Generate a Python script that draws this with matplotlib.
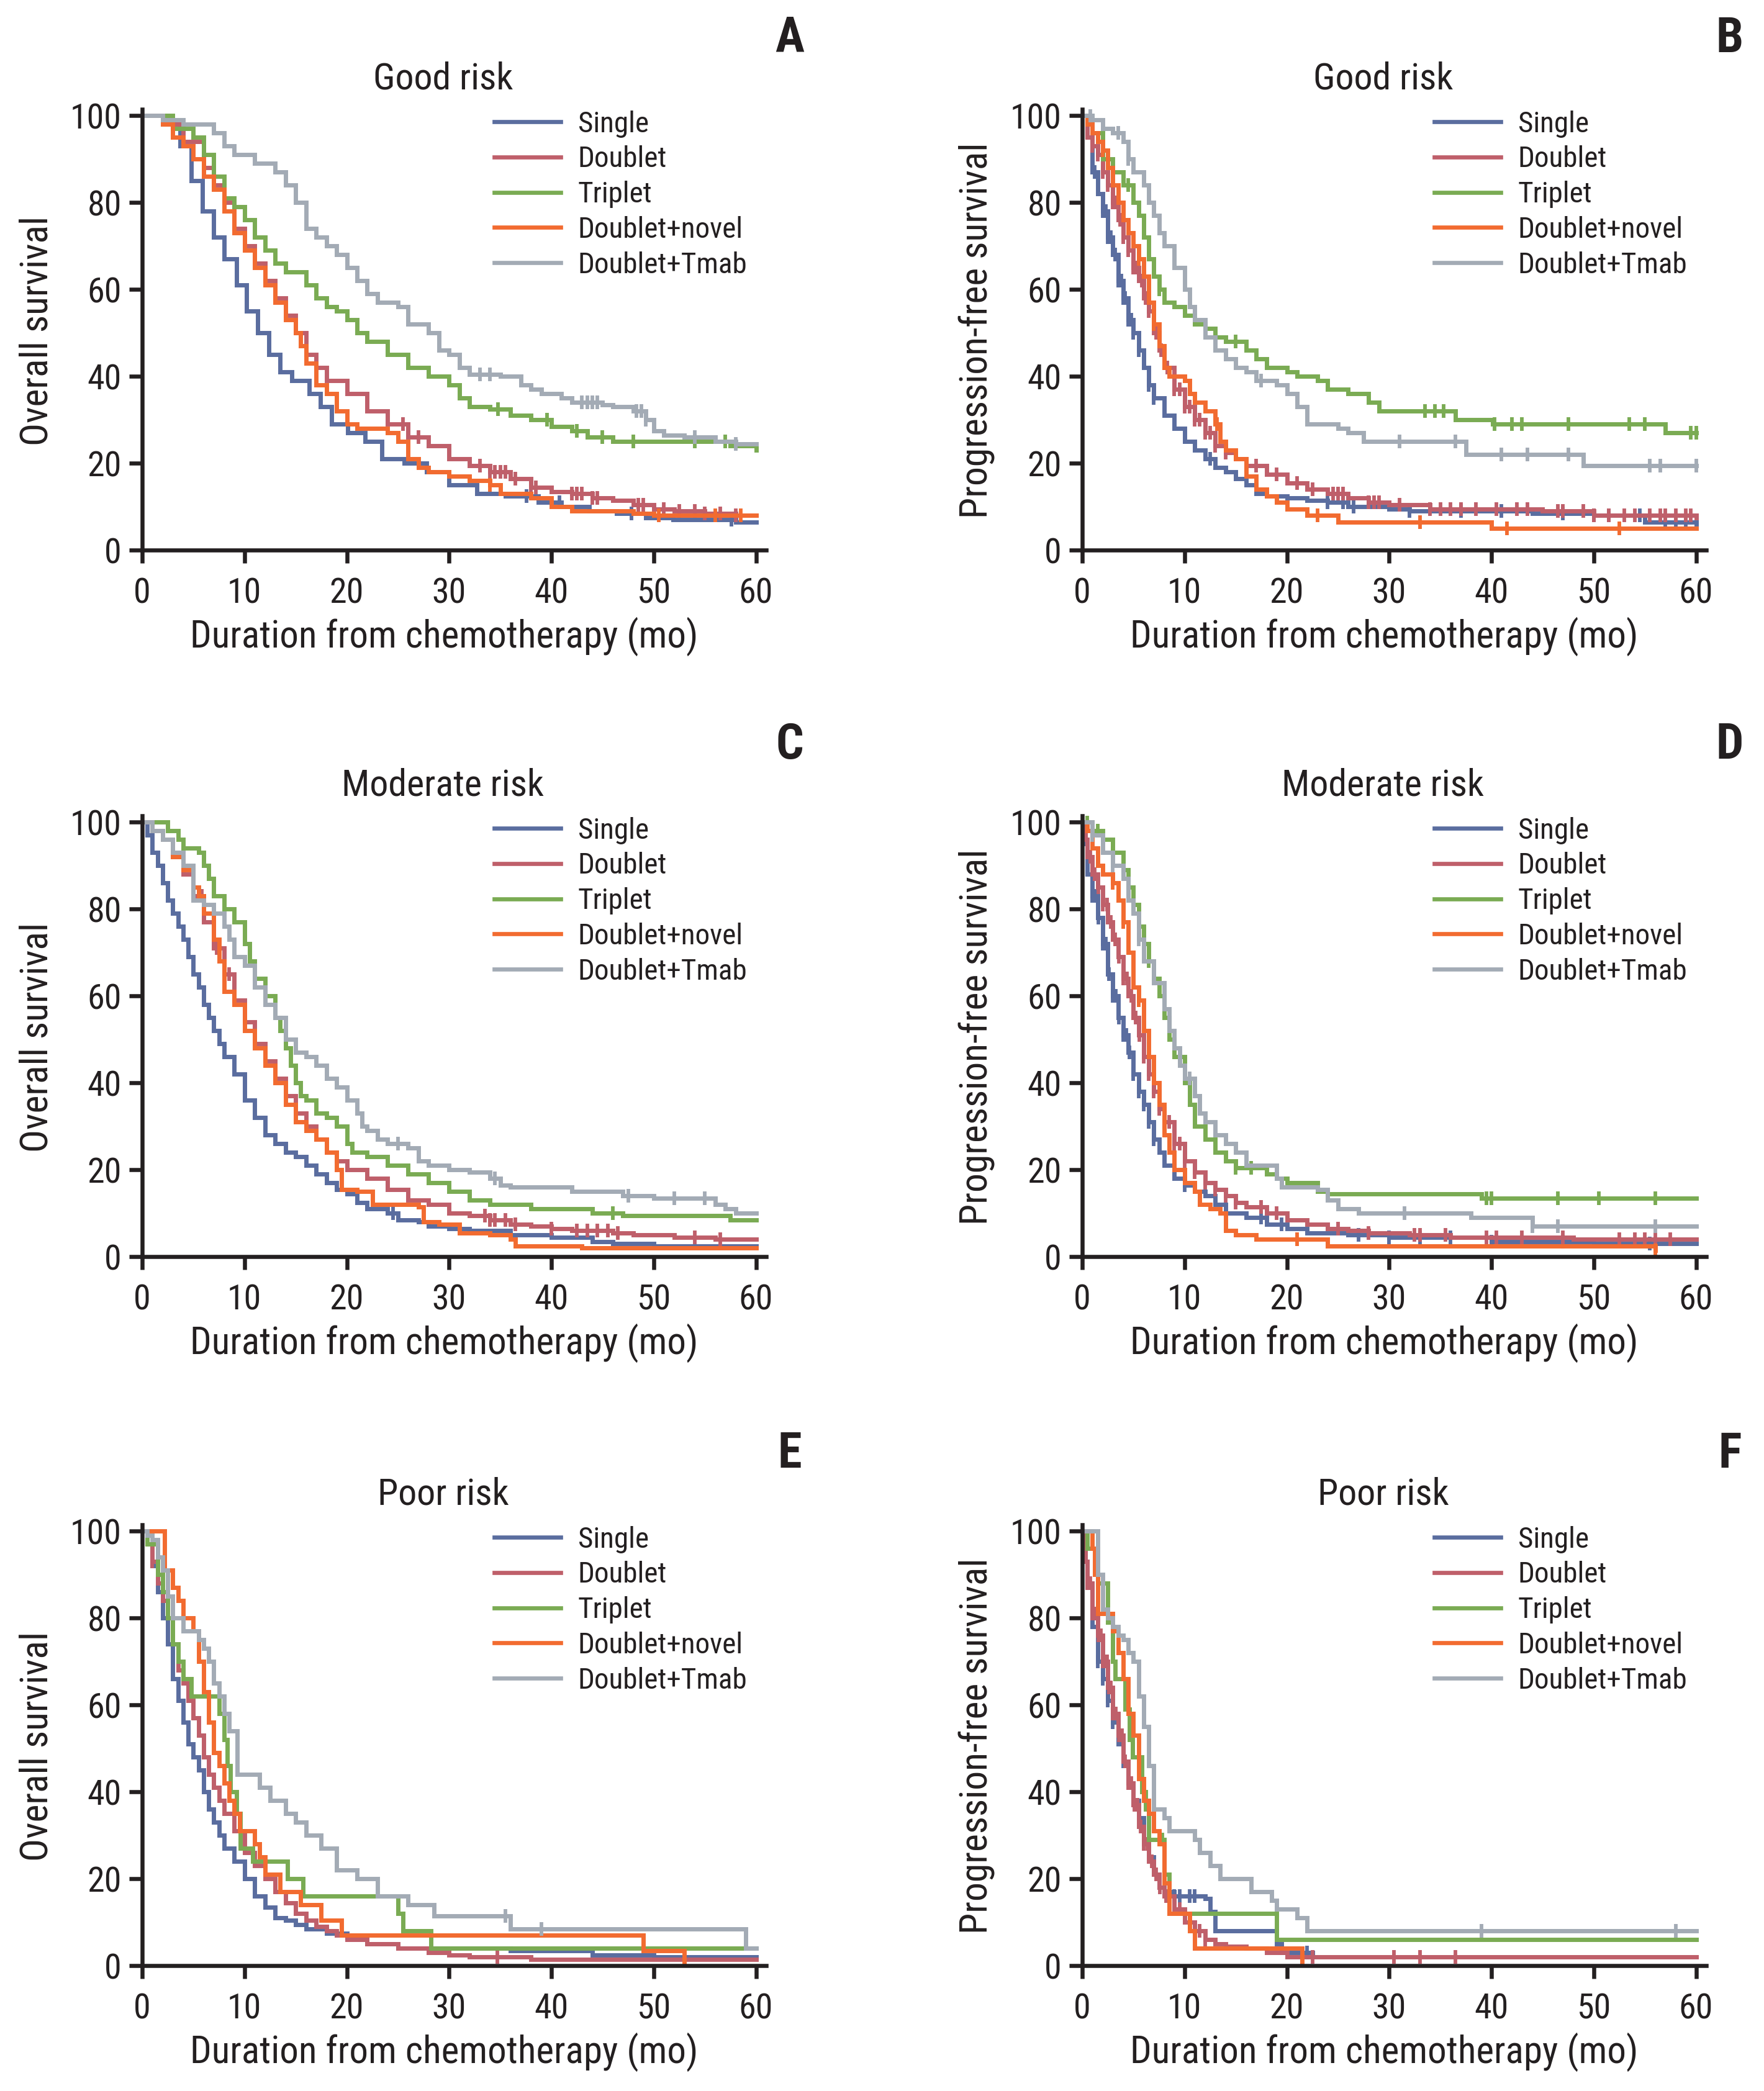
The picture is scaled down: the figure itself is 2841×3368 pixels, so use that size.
import numpy as np
import matplotlib
matplotlib.use("Agg")
import matplotlib.pyplot as plt
from matplotlib import font_manager
from matplotlib.lines import Line2D

avail = {f.name for f in font_manager.fontManager.ttflist}
prefs = ['Roboto Condensed', 'Fira Sans Condensed', 'Archivo Narrow', 'PT Sans Narrow',
         'IBM Plex Sans Condensed', 'Liberation Sans Narrow', 'Asap Condensed',
         'Encode Sans Condensed', 'Barlow Semi Condensed', 'Open Sans Condensed', 'Liberation Sans']
FONT = next(p for p in prefs if p in avail)
plt.rcParams['font.family'] = [FONT, 'DejaVu Sans']

groups = ["Single", "Doublet", "Triplet", "Doublet+novel", "Doublet+Tmab"]
colors = ["#5a6d9f", "#bf5f6a", "#7aab53", "#f26b30", "#a3abb5"]
x_ticks = [0, 10, 20, 30, 40, 50, 60]
y_ticks = [0, 20, 40, 60, 80, 100]
titles = ["Good risk", "Good risk", "Moderate risk", "Moderate risk", "Poor risk", "Poor risk"]
letters = ["A", "B", "C", "D", "E", "F"]
ylabels = ["Overall survival", "Progression-free survival"] * 3
xlabel = "Duration from chemotherapy (mo)"

# ---------------- Panel A : OS, good risk ----------------
a_single_t = [0, 2.5, 3.7, 4.8, 5.9, 7, 8, 9.2, 10.2, 11.3, 12.4, 13.5, 14.6, 16.3, 17.4, 18.5, 20.1, 21.8, 23.4, 25.6, 27.8, 30, 32.7, 35.5, 38.7, 41, 43.7, 46.4, 49.2, 51.9, 58, 60]
a_single_s = [100, 98, 93, 85, 78, 72, 67, 61, 55, 50, 45, 41, 39, 36, 33, 29, 27, 25, 21, 20, 18, 15, 13, 12.5, 11, 10, 9, 8.5, 7.5, 7, 6.5, 6.5]
a_single_c = [37.6, 40.8, 47.8, 57.6]
a_doublet_t = [0, 2, 4, 6, 7, 8, 9, 10, 11, 12, 13, 14, 15, 16, 17, 18, 20, 22, 24, 26, 28, 30, 32, 34, 36, 38, 40, 42, 44, 46, 48, 50, 52, 55, 58, 60]
a_doublet_s = [100, 98, 94, 88, 84, 80, 74, 70, 66, 62, 58, 54, 50, 45, 42, 39, 36, 32, 29, 26, 24, 21, 19.5, 18, 16.5, 14.5, 13.5, 13, 12, 11.5, 10.5, 9.5, 9, 8.5, 8, 8]
a_doublet_c = [25.5, 27, 33, 34, 34.5, 35, 35.5, 36.5, 38, 38.5, 42, 42.5, 43, 44, 44.5, 48.5, 49, 51, 52.5, 54, 55, 56.5, 58]
a_triplet_t = [0, 3, 5, 6, 7, 8, 9, 10, 11, 12, 13, 14, 16, 17, 18, 19, 20, 21, 22, 24, 26, 28, 30, 31, 32, 34, 36, 38, 40, 42, 43.5, 46, 57.5, 60]
a_triplet_s = [100, 97, 95, 91, 86, 81, 79, 76, 72, 69, 66, 64, 61, 58, 56, 55, 53, 50, 48, 45, 42, 40, 38, 35, 33, 32.5, 31, 30, 28.5, 27.5, 26, 25, 24, 23]
a_triplet_c = [34.8, 39.6, 42.5, 45, 48, 54, 57]
a_novel_t = [0, 2, 3, 4, 5, 6, 7, 8, 9, 10, 11, 12, 13, 14, 15, 15.5, 16, 17, 18, 19, 20, 21, 24, 25, 26, 27, 28, 30, 32, 34, 35, 38, 40, 42, 48, 50, 60]
a_novel_s = [100, 98, 95, 93, 90, 86, 83, 78, 73, 69, 65, 61, 57, 53, 50, 47, 43, 38, 36, 32, 29, 28, 27, 25, 21, 19, 18, 17, 16, 15, 13, 12, 10, 9, 8.5, 8, 8]
a_novel_c = [34, 50.5, 56, 58.5]
a_tmab_t = [0, 2, 4, 7, 8, 9, 11, 13, 14, 15, 16, 17, 18, 19, 20, 21, 22, 23, 25, 26, 28, 29, 30, 31, 32, 35, 37, 38, 39, 41, 42, 45, 46, 48, 49.2, 50, 51, 53, 56, 58, 60]
a_tmab_s = [100, 99, 98, 96, 93, 91, 89, 87, 84, 80, 74, 72, 70, 68, 65, 62, 59, 57, 56, 52, 50, 46, 45, 42, 40.5, 40, 38, 37, 36, 35, 34, 33.5, 33, 32, 30, 27.5, 26.5, 26, 25, 24.5, 24.5]
a_tmab_c = [33, 34, 43, 43.5, 44, 44.5, 48.3, 48.8, 49.2, 54, 58]

# ---------------- Panel B : PFS, good risk ----------------
b_single_t = [0, 0.5, 1, 1.5, 2, 2.5, 3, 3.5, 4, 4.5, 5, 5.5, 6, 6.5, 7, 8, 9, 10, 11, 12, 13, 14, 15, 16, 17, 18, 20, 22, 24, 26, 30, 32, 44, 50, 55, 60]
b_single_s = [100, 95, 87, 82, 78, 72, 68, 62, 58, 53, 50, 46, 42, 38, 35, 31, 28, 25, 23, 21, 19, 18, 16.5, 15, 13, 12.5, 12, 11.5, 11, 10, 9.5, 9, 8.5, 8, 6.5, 6]
b_single_c = [1.2, 2, 2.3, 2.5, 2.8, 3.2, 3.5, 3.8, 4, 4.2, 4.5, 4.8, 5, 5.5, 6.5, 7, 12.5, 24, 25.5, 26.5, 32, 37, 41, 47, 50, 51.5, 54.5, 57, 58, 59]
b_doublet_t = [0, 0.5, 1, 1.5, 2, 2.5, 3, 3.5, 4, 4.5, 5, 5.5, 6, 6.5, 7, 7.5, 8, 9, 10, 11, 12, 13, 14, 15, 16, 18, 20, 22, 24, 26, 28, 30, 34, 45, 50, 60]
b_doublet_s = [100, 95, 93, 91, 87, 84, 80, 76, 72, 69, 65, 62, 58, 55, 50, 46, 42, 37, 33, 30, 27, 24, 22.5, 21, 19.5, 17.5, 15.5, 14, 13, 12, 11, 10.5, 9.5, 9, 8, 7.5]
b_doublet_c = [1, 1.5, 2, 2.5, 3, 3.3, 3.7, 4, 4.5, 5, 5.3, 5.8, 6.2, 6.5, 7.2, 7.7, 8.3, 9, 9.5, 10, 10.5, 11, 11.5, 12, 12.5, 13, 14, 16, 17, 19, 21, 22.5, 24.5, 25, 25.5, 28, 28.5, 29, 31, 34, 35, 36, 37, 38.5, 40.5, 42.5, 43.5, 46.5, 47, 49, 50, 51.5, 53, 54, 55.5, 56.5, 57, 58, 59, 59.5]
b_triplet_t = [0, 1, 2, 3, 4, 5, 5.5, 6, 6.5, 7, 7.5, 8, 9, 10, 11, 12, 13, 14, 16, 17, 18, 20, 21, 23, 24, 26, 28, 29, 36.5, 40.1, 57, 60]
b_triplet_s = [100, 96, 90, 87, 84, 80, 77, 72, 67, 63, 60, 57, 56, 54, 52, 51, 49, 48, 46, 44, 42, 41, 40, 39, 37, 36, 34, 32, 30, 29, 27, 27]
b_triplet_c = [3, 4.5, 7.5, 15, 33.5, 34.5, 35.3, 40.3, 42, 43, 47.5, 53.5, 55, 59.5, 60]
b_novel_t = [0, 0.5, 1, 1.5, 2, 2.5, 3, 3.5, 4, 4.5, 5, 5.5, 6, 6.5, 7, 7.5, 8, 8.5, 10, 10.5, 11, 12, 13, 13.5, 14, 15, 16, 17, 18, 19, 20, 22, 25, 40, 60]
b_novel_s = [100, 98, 96, 94, 92, 88, 84, 80, 76, 73, 70, 67, 63, 57, 52, 47, 42, 40, 39, 36, 34, 32, 29, 25, 23, 21, 17, 14, 12.5, 11, 9.5, 8, 6.5, 5, 5]
b_novel_c = [2, 5.5, 7, 13.2, 23, 33, 41.5, 52.5]
b_tmab_t = [0, 1, 2, 3, 4, 4.5, 5, 6, 6.5, 7, 7.5, 8, 9, 10, 10.5, 11, 12, 13, 14, 15, 16, 17, 19, 20, 21, 22, 25, 26, 27.5, 37.5, 49, 60]
b_tmab_s = [100, 99, 97, 96, 94, 90, 87, 84, 80, 77, 73, 70, 65, 60, 56, 53, 49, 46, 44, 42, 41, 39, 38, 36, 33, 29, 28, 27, 25, 22, 19.5, 19.5]
b_tmab_c = [0.8, 3.5, 4.5, 17.5, 31, 36.5, 41, 43.5, 47.5, 55.5, 56.5, 60]

# ---------------- Panel C : OS, moderate risk ----------------
c_single_t = [0, 0.5, 1, 1.5, 2, 2.5, 3, 3.5, 4, 4.5, 5, 5.5, 6, 6.5, 7, 7.5, 8, 9, 10, 11, 12, 13, 14, 15, 16, 17, 18, 19, 20, 21, 22, 24, 25, 27, 28, 30, 32, 36, 40, 44, 46, 50, 60]
c_single_s = [100, 97, 93, 90, 86, 82, 79, 76, 73, 69, 65, 62, 58, 55, 52, 49, 46, 42, 36, 32, 28, 26, 24, 23, 21, 19, 17, 15.5, 14.5, 12.5, 11, 10, 8.5, 8, 7, 6.5, 6, 5, 4.5, 3.5, 3, 2.5, 2.5]
c_single_c = [24.5]
c_doublet_t = [0, 1, 2, 3, 4, 5, 6, 7, 8, 9, 10, 11, 12, 13, 14, 15, 16, 17, 18, 19, 20, 22, 24, 26, 28, 30, 32, 34, 36, 38, 40, 42, 46, 48, 52, 56, 60]
c_doublet_s = [100, 98, 96, 92, 88, 83, 77, 71, 65, 59, 54, 49, 45, 41, 37, 33, 30, 27, 24, 22, 20, 18, 15.5, 13, 12, 10, 9.5, 8.5, 7.5, 7, 6.5, 6, 5.5, 5, 4.5, 4, 4]
c_doublet_c = [5.8, 7.3, 8.5, 33.5, 34, 34.5, 35.5, 36.5, 40, 42.5, 43.5, 44.5, 45.5, 46.5, 54, 56.5]
c_triplet_t = [0, 2.5, 3.5, 4, 5.5, 6, 6.5, 7, 8, 9, 10, 10.5, 11, 12, 13, 13.5, 14, 14.5, 15, 15.5, 16, 17, 18, 19, 20, 20.5, 22, 24, 26, 28, 30, 32, 34, 38, 44, 47, 57.5, 60]
c_triplet_s = [100, 98, 96, 94, 93, 90, 87, 83, 80, 77, 72, 68, 64, 60, 55, 52, 48, 44, 40, 37, 36, 33, 32, 30, 26, 24, 23, 21, 19, 17, 15, 13, 12, 11, 10, 9.5, 8.5, 8.5]
c_triplet_c = [46]
c_novel_t = [0, 1, 2, 3, 4, 5, 5.5, 6, 7, 7.5, 8, 9, 10, 11, 12, 13, 14, 15, 16, 17, 18, 19, 19.5, 21, 22.5, 27, 27.5, 29, 31, 34, 36, 36.5, 43, 60]
c_novel_s = [100, 98, 96, 92, 89, 85, 83, 79, 73, 68, 61, 58, 52, 48, 44, 40, 35, 31, 29, 27, 24, 20, 15.5, 15, 12, 11.5, 8, 7.5, 5.5, 5, 4, 2.5, 2, 2]
c_novel_c = []
c_tmab_t = [0, 1, 2, 3, 4, 5, 6, 7, 8, 8.5, 9, 10, 11, 12, 13, 14, 15, 16, 17, 18, 19, 20, 21, 21.5, 22, 23, 24, 26, 27, 28, 30, 32, 34, 35, 36, 42, 47, 50, 56, 57, 58, 60]
c_tmab_s = [100, 98, 96, 93, 90, 82, 81, 79, 76, 73, 69, 67, 62, 58, 55, 50, 47, 46, 44, 41, 39, 36, 33, 30, 29, 27, 26, 25, 22, 21, 20, 19.5, 18, 16.5, 16, 15, 14, 13.5, 12, 11, 10, 10]
c_tmab_c = [25, 34.5, 47.5, 52, 55]

# ---------------- Panel D : PFS, moderate risk ----------------
d_single_t = [0, 0.3, 0.5, 1, 1.5, 2, 2.5, 3, 3.5, 4, 4.5, 5, 5.5, 6, 6.5, 7, 7.5, 8, 9, 10, 11, 12, 13, 14, 16, 18, 20, 22, 26, 30, 40, 50, 60]
d_single_s = [100, 95, 88, 83, 78, 72, 65, 60, 55, 51, 47, 42, 38, 35, 31, 27, 24, 21, 18, 16.5, 15, 14, 12, 10, 9, 7.5, 6.5, 5.5, 5, 4.5, 3.5, 3, 3]
d_single_c = [1, 1.3, 1.6, 2, 2.3, 2.6, 3, 3.3, 3.6, 4, 4.3, 4.6, 5, 5.5, 6, 6.5, 7, 10, 17.5, 19.5, 27, 30, 33, 36, 40, 47, 55.5]
d_doublet_t = [0, 0.3, 0.5, 1, 1.5, 2, 2.5, 3, 3.5, 4, 4.5, 5, 5.5, 6, 6.5, 7, 7.5, 8, 9, 10, 11, 12, 13, 14, 15, 16, 18, 20, 22, 24, 26, 28, 32, 36, 48, 60]
d_doublet_s = [100, 96, 92, 88, 85, 81, 77, 73, 69, 64, 60, 55, 51, 46, 42, 38, 34, 31, 26, 22, 19.5, 17, 15.5, 14, 12.5, 11.5, 10, 8.5, 7.5, 6.5, 6, 5.5, 5, 4.5, 4, 4]
d_doublet_c = [0.8, 1.2, 1.6, 2, 2.4, 2.8, 3.2, 3.6, 4, 4.4, 4.8, 5.2, 5.6, 6, 6.5, 7, 7.5, 8, 8.5, 9, 9.5, 10, 11, 12, 13, 14, 15, 17.5, 19, 25, 28, 32.5, 33, 35.5, 39.5, 40.5, 43, 47, 52.5, 54, 55, 56, 57.5]
d_triplet_t = [0, 1, 2, 3, 4, 4.5, 5, 5.5, 6, 6.5, 7, 7.5, 8, 8.5, 9, 10, 10.5, 11, 12, 13, 14, 15, 18, 19, 20, 23, 24, 39, 60]
d_triplet_s = [100, 98, 96, 93, 89, 85, 81, 76, 72, 68, 64, 60, 55, 50, 46, 40, 35, 30, 27, 24, 22, 20.5, 19, 18, 17, 15, 14.5, 13.5, 13.5]
d_triplet_c = [0.5, 1.5, 3, 4, 5, 6.5, 9.5, 15, 16.5, 39.5, 40, 46.5, 50.5, 56]
d_novel_t = [0, 0.5, 1, 1.5, 2, 3, 3.5, 4, 4.5, 5, 5.5, 6, 6.5, 7, 7.5, 8, 8.5, 9, 10, 11, 11.5, 12.5, 13.5, 14, 15, 17, 24, 56]
d_novel_s = [100, 98, 94, 90, 88, 86, 82, 77, 70, 62, 59, 52, 46, 40, 35, 28, 24, 20, 17, 15, 12, 11, 10, 6, 5, 4, 2.5, 1.5]
d_novel_c = [3, 4, 5.5, 21, 56]
d_tmab_t = [0, 1, 2, 3, 4, 4.5, 5, 5.5, 6, 7, 8, 8.5, 9, 9.5, 10, 11, 11.5, 12, 13, 14, 15, 16, 19, 19.5, 23, 24, 25, 27, 38, 44, 60]
d_tmab_s = [100, 97, 93, 90, 87, 82, 79, 73, 68, 63, 57, 52, 48, 44, 41, 37, 33, 31, 28, 26, 24, 21, 18, 16, 15.5, 13, 11, 10, 9, 7, 7]
d_tmab_c = [1, 3, 5.5, 10.5, 31.5, 44, 46.5, 56]

# ---------------- Panel E : OS, poor risk ----------------
e_single_t = [0, 0.5, 1, 1.5, 2, 2.5, 3, 3.5, 4, 4.5, 5, 5.5, 6, 6.5, 7, 7.5, 8, 9, 10, 11, 12, 13, 14, 15, 16, 18, 20, 22, 25, 36, 44, 50, 60]
e_single_s = [100, 97, 92, 86, 80, 74, 66, 61, 56, 51, 48, 45, 40, 36, 33, 30, 27, 24, 20, 16, 13.5, 11, 10.5, 9.5, 8.5, 7.5, 6.5, 5, 4, 3.5, 2.5, 2, 2]
e_single_c = []
e_doublet_t = [0, 0.5, 1, 1.5, 2, 2.5, 3, 3.5, 4, 4.5, 5, 5.5, 6, 6.5, 7, 7.5, 8, 9, 10, 11, 12, 13, 14, 15, 16, 17, 18, 19, 20, 22, 25, 28, 30, 32, 38, 60]
e_doublet_s = [100, 97, 93, 88, 84, 80, 74, 68, 65, 61, 57, 53, 48, 44, 41, 38, 35, 31, 26, 23, 20, 17, 14.5, 12, 10.5, 9, 8, 7, 6, 5, 4, 3, 2.5, 2, 1.5, 1.5]
e_doublet_c = [1, 34.7]
e_triplet_t = [0, 0.5, 1.5, 2, 2.5, 3, 3.5, 4, 4.8, 7.5, 8, 8.3, 8.6, 9.2, 9.6, 10.8, 14.2, 15.7, 25, 25.5, 28.2, 60]
e_triplet_s = [100, 97, 90, 86, 80, 74, 70, 66, 62, 58, 52, 46, 40, 35, 27, 24, 20, 16, 12, 8, 4, 4]
e_triplet_c = []
e_novel_t = [0, 2.2, 3, 3.5, 4, 5, 5.5, 6, 6.5, 7, 7.5, 8, 8.5, 9, 9.5, 11, 11.5, 12, 13.5, 15.5, 17.5, 19.5, 49, 53]
e_novel_s = [100, 91, 87, 84, 80, 77, 70, 63, 56, 49, 46, 42, 38, 35, 31, 28, 25, 21, 17, 14, 10.5, 7, 3.5, 0]
e_novel_c = []
e_tmab_t = [0, 0.5, 1, 1.5, 2, 2.5, 3, 4, 5.5, 6, 6.5, 7, 7.5, 8, 8.5, 9.3, 11.5, 12.5, 14, 15, 16, 17.5, 19, 21, 23, 26, 28.5, 36, 59, 60]
e_tmab_s = [100, 99, 98, 94, 91, 85, 80, 77, 75, 73, 70, 65, 62, 58, 54, 44, 41, 38, 35, 33, 30, 27, 22, 20, 16, 14, 11.5, 8.5, 4, 4]
e_tmab_c = [35.5, 39]

# ---------------- Panel F : PFS, poor risk ----------------
f_single_t = [0, 0.3, 0.5, 1, 1.5, 2, 2.5, 3, 3.5, 4, 4.5, 5, 5.5, 6, 6.5, 7, 7.5, 8, 9, 12, 12.5, 13, 19, 19.5, 22.5]
f_single_s = [100, 93, 87, 78, 70, 66, 61, 56, 51, 47, 42, 38, 34, 29, 25, 21, 18, 17, 16, 15.5, 12.5, 8, 5, 3, 2]
f_single_c = [1.5, 2, 2.5, 3, 4, 5, 9, 9.5, 10.5, 11, 22]
f_doublet_t = [0, 0.3, 0.5, 1, 1.5, 2, 2.5, 3, 3.5, 4, 4.5, 5, 5.5, 6, 6.5, 7, 7.5, 8, 9, 10, 11, 12, 13, 14, 16, 18, 20, 60]
f_doublet_s = [100, 93, 88, 81, 76, 70, 64, 58, 53, 47, 42, 37, 32, 28, 24, 21, 18, 16, 13, 10, 8, 6, 5, 4.5, 4, 3, 2, 2]
f_doublet_c = [0.5, 0.8, 1, 1.2, 1.4, 1.6, 1.8, 2, 2.2, 2.4, 2.6, 2.8, 3, 3.3, 3.6, 3.9, 4.2, 4.5, 4.8, 5.1, 5.4, 5.7, 6, 6.4, 6.8, 7.2, 7.6, 8.2, 9.5, 10.5, 11.5, 12, 22.5, 30.5, 33, 36.5]
f_triplet_t = [0, 0.5, 1.5, 2.5, 3, 3.2, 4.2, 4.6, 4.9, 5.8, 6.2, 6.5, 8, 8.5, 19, 60]
f_triplet_s = [100, 96, 88, 79, 70, 66, 59, 52, 48, 40, 36, 29, 21, 12, 6, 6]
f_triplet_c = [7.8]
f_novel_t = [0, 1, 1.2, 1.5, 3, 3.5, 4, 4.5, 5, 5.5, 6, 6.5, 7, 7.5, 8, 8.5, 10.5, 11, 21.5]
f_novel_s = [100, 96, 90, 81, 77, 72, 66, 58, 53, 43, 38, 35, 31, 28, 19, 12, 8, 4, 0]
f_novel_c = []
f_tmab_t = [0, 1.5, 2, 2.5, 3, 3.5, 4, 4.5, 5, 5.5, 6, 6.5, 7, 8, 8.5, 11, 11.5, 12.5, 13.5, 16.5, 18.5, 19, 21, 22, 60]
f_tmab_s = [100, 90, 82, 80, 78, 76, 75, 72, 70, 62, 55, 46, 36, 34, 31, 29, 26, 23, 20, 17, 15, 13, 11, 8, 8]
f_tmab_c = [39, 58]

panels = [
    [(a_single_t, a_single_s, a_single_c), (a_doublet_t, a_doublet_s, a_doublet_c), (a_triplet_t, a_triplet_s, a_triplet_c), (a_novel_t, a_novel_s, a_novel_c), (a_tmab_t, a_tmab_s, a_tmab_c)],
    [(b_single_t, b_single_s, b_single_c), (b_doublet_t, b_doublet_s, b_doublet_c), (b_triplet_t, b_triplet_s, b_triplet_c), (b_novel_t, b_novel_s, b_novel_c), (b_tmab_t, b_tmab_s, b_tmab_c)],
    [(c_single_t, c_single_s, c_single_c), (c_doublet_t, c_doublet_s, c_doublet_c), (c_triplet_t, c_triplet_s, c_triplet_c), (c_novel_t, c_novel_s, c_novel_c), (c_tmab_t, c_tmab_s, c_tmab_c)],
    [(d_single_t, d_single_s, d_single_c), (d_doublet_t, d_doublet_s, d_doublet_c), (d_triplet_t, d_triplet_s, d_triplet_c), (d_novel_t, d_novel_s, d_novel_c), (d_tmab_t, d_tmab_s, d_tmab_c)],
    [(e_single_t, e_single_s, e_single_c), (e_doublet_t, e_doublet_s, e_doublet_c), (e_triplet_t, e_triplet_s, e_triplet_c), (e_novel_t, e_novel_s, e_novel_c), (e_tmab_t, e_tmab_s, e_tmab_c)],
    [(f_single_t, f_single_s, f_single_c), (f_doublet_t, f_doublet_s, f_doublet_c), (f_triplet_t, f_triplet_s, f_triplet_c), (f_novel_t, f_novel_s, f_novel_c), (f_tmab_t, f_tmab_s, f_tmab_c)],
]

W, H = 2841, 3368
fig = plt.figure(figsize=(W / 100, H / 100), dpi=100)
renderer = fig.canvas.get_renderer()


def fit_size(s, target_px, weight='normal'):
    prop = font_manager.FontProperties(family=[FONT, 'DejaVu Sans'], size=50, weight=weight)
    w, h, d = renderer.get_text_width_height_descent(s, prop, ismath=False)
    return 50.0 * target_px / w


FS_TICK = fit_size("100", 83)
FS_LEG = fit_size("Doublet+Tmab", 273)
FS_TITLE = fit_size("Good risk", 226)
FS_XLAB = fit_size(xlabel, 819)
FS_YLAB = fit_size("Overall survival", 371)
FS_LET = fit_size("A", 47, 'bold')

XMAX, YMAX = 61.0, 101.5
x0_px = [229, 1743]
y0_px = [886, 2024, 3166]
px_per_mo = 988.5 / 60
px_per_pct = 700 / 100

LW = 5.0
SPW = 4.7
ink = "#231f20"

for i, curves in enumerate(panels):
    row, col = divmod(i, 2)
    left = x0_px[col] / W
    bottom = 1 - y0_px[row] / H
    width = XMAX * px_per_mo / W
    height = YMAX * px_per_pct / H
    ax = fig.add_axes([left, bottom, width, height])
    for k, (t, s, c) in enumerate(curves):
        t = np.asarray(t, float)
        s = np.asarray(s, float)
        ax.step(t, s, where='post', color=colors[k], lw=LW, solid_joinstyle='miter', zorder=2 + k)
        if len(c):
            c = np.asarray(c, float)
            idx = np.searchsorted(t, c, side='right') - 1
            ax.plot(c, s[idx], ls='none', marker='|', ms=16, mew=4.2, color=colors[k], zorder=2 + k)
    ax.set_xlim(0, XMAX)
    ax.set_ylim(0, YMAX)
    ax.set_xticks(x_ticks)
    ax.set_yticks(y_ticks)
    for sp in ['top', 'right']:
        ax.spines[sp].set_visible(False)
    for sp in ['left', 'bottom']:
        ax.spines[sp].set_linewidth(SPW)
        ax.spines[sp].set_color(ink)
        ax.spines[sp].set_zorder(10)
    ax.tick_params(axis='both', direction='out', length=15, width=SPW, color=ink,
                   labelsize=FS_TICK, labelcolor=ink)
    ax.tick_params(axis='x', pad=16)
    ax.tick_params(axis='y', pad=9)
    ax.text(29.4, 106, titles[i], ha='center', va='baseline', fontsize=FS_TITLE, color=ink, clip_on=False)
    ax.text(63.3, 114.6, letters[i], ha='center', va='baseline', fontsize=FS_LET, fontweight='bold',
            color=ink, clip_on=False)
    ax.text(29.5, -22.4, xlabel, ha='center', va='baseline', fontsize=FS_XLAB, color=ink, clip_on=False)
    ax.text(-9.25, 50.5, ylabels[i], ha='center', va='baseline', rotation=90, rotation_mode='anchor',
            fontsize=FS_YLAB, color=ink, clip_on=False)
    handles = [Line2D([0], [0], color=colors[k], lw=4.8) for k in range(5)]
    hl_px = 107.0
    tp_px = 28.0
    fs_px = FS_LEG * 100 / 72
    ax.legend(handles, groups, loc='upper left', bbox_to_anchor=(0.564, 0.997), frameon=False,
              fontsize=FS_LEG, handlelength=hl_px / fs_px, handletextpad=tp_px / fs_px,
              labelspacing=0.27, borderpad=0, borderaxespad=0, labelcolor=ink)

fig.savefig("out.png", dpi=100, facecolor="white")
